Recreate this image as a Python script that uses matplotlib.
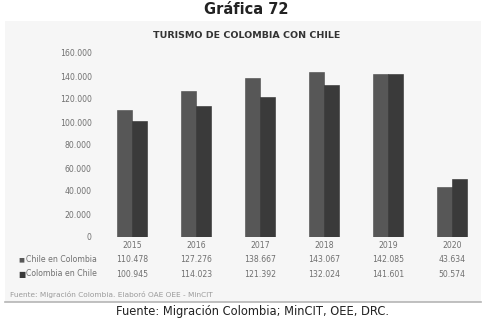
import matplotlib
matplotlib.use("Agg")
import matplotlib.pyplot as plt
from matplotlib.patches import Rectangle
from matplotlib.ticker import FuncFormatter
import numpy as np

years = ["2015", "2016", "2017", "2018", "2019", "2020"]
chile_en_colombia = [110478, 127276, 138667, 143067, 142085, 43634]
colombia_en_chile = [100945, 114023, 121392, 132024, 141601, 50574]
series_names = ["Chile en Colombia", "Colombia en Chile"]
y_ticks = [0, 20000, 40000, 60000, 80000, 100000, 120000, 140000, 160000]

c_chile = "#575757"
c_col = "#3a3a3a"
txt_grey = "#707070"


def miles(v):
    return f"{v:,.0f}".replace(",", ".")


def main():
    W, H = 493, 323
    fig = plt.figure(figsize=(W / 100, H / 100), dpi=100)
    fig.patch.set_facecolor("white")

    # embedded chart image box
    box = Rectangle((5 / W, 21 / H), 476 / W, (302 - 21) / H, transform=fig.transFigure,
                    facecolor="#f6f6f6", edgecolor="none", zorder=-10)
    fig.patches.append(box)
    fig.add_artist(plt.Line2D([5 / W, 481 / W], [1 - 302 / H, 1 - 302 / H],
                              transform=fig.transFigure, color="#b5b5b5", lw=1.2))

    fig.text(0.5, 1 - 10 / H, "Gráfica 72", ha="center", va="center",
             fontsize=10.5, fontweight="semibold", color="#222222")
    fig.text(247 / W, 1 - 36 / H, "TURISMO DE COLOMBIA CON CHILE", ha="center", va="center",
             fontsize=6.8, fontweight="bold", color="#333333")

    ax = fig.add_axes([100 / W, 1 - 237 / H, 384 / W, 184 / H], zorder=5)
    ax.set_facecolor("none")
    x = np.arange(len(years))
    w = 0.235
    ax.bar(x - w / 2, chile_en_colombia, w, color=c_chile, edgecolor="#4a4a4a", lw=0.4)
    ax.bar(x + w / 2, colombia_en_chile, w, color=c_col, edgecolor="#303030", lw=0.4)
    ax.set_xlim(-0.5, len(years) - 0.5)
    ax.set_ylim(0, 160000)
    ax.set_yticks(y_ticks)
    ax.yaxis.set_major_formatter(FuncFormatter(lambda v, p: miles(v)))
    ax.tick_params(axis="y", length=0, labelsize=5.6, labelcolor=txt_grey, pad=6)
    ax.set_xticks([])
    for s in ax.spines.values():
        s.set_visible(False)

    # data table under the plot
    tr = ax.get_xaxis_transform()
    rows = [(-0.045, years), (-0.125, [miles(v) for v in chile_en_colombia]),
            (-0.202, [miles(v) for v in colombia_en_chile])]
    for yy, labels in rows:
        for xi, lab in zip(x, labels):
            ax.text(xi, yy, lab, transform=tr, ha="center", va="center",
                    fontsize=5.6, color=txt_grey, clip_on=False)

    for yy, name, col, ms in [(260, series_names[0], c_chile, 4.5), (274, series_names[1], c_col, 5.5)]:
        fig.text(18 / W, 1 - yy / H, "■", ha="left", va="center", fontsize=ms, color=col)
        fig.text(26 / W, 1 - yy / H, name, ha="left", va="center", fontsize=5.6, color=txt_grey)

    fig.text(10 / W, 1 - 294 / H, "Fuente: Migración Colombia. Elaboró OAE OEE - MinCIT",
             ha="left", va="center", fontsize=5.3, color="#9a9a9a")
    fig.text(252 / W, 1 - 312 / H, "Fuente: Migración Colombia; MinCIT, OEE, DRC.",
             ha="center", va="center", fontsize=8.3, color="#222222")

    fig.savefig("out.png", dpi=100)


if __name__ == "__main__":
    main()
